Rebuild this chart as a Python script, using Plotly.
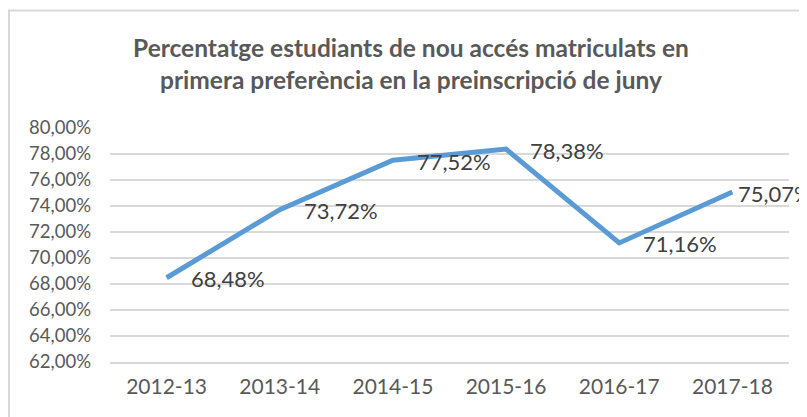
import plotly.graph_objects as go

categories = ["2012-13", "2013-14", "2014-15", "2015-16", "2016-17", "2017-18"]
values = [68.48, 73.72, 77.52, 78.38, 71.16, 75.07]
y_ticks = [62, 64, 66, 68, 70, 72, 74, 76, 78, 80]
title_lines = ["Percentatge estudiants de nou accés matriculats en",
               "primera preferència en la preinscripció de juny"]

label_xshift = [22, 22, 22, 22, 22, 4]

# page body has an 8px default margin, so the figure is sized to the remaining window
W, H = 799, 409
L, T = 102, 120
pw, ph = 679, 234
R, B = W - L - pw, H - T - ph

def fmt(v):
    return f"{v:.2f}".replace(".", ",") + "%"

fig = go.Figure()
fig.add_trace(go.Scatter(
    x=categories, y=values, mode="lines",
    line=dict(color="#5B9BD5", width=5),
    hoverinfo="skip", showlegend=False, cliponaxis=False,
))

for c, v, dx in zip(categories, values, label_xshift):
    fig.add_annotation(
        x=c, y=v, text=fmt(v), showarrow=False,
        xanchor="left", yanchor="middle", xshift=dx, yshift=-1,
        font=dict(family="Lato", size=22, color="#404040"),
    )

# chart-area border
fig.add_shape(
    type="rect", xref="paper", yref="paper",
    x0=(1 - L) / pw, x1=1.3, y0=-0.6, y1=(H - B - 2.5) / ph,
    line=dict(color="#D9D9D9", width=2), fillcolor="rgba(0,0,0,0)", layer="below",
)

fig.update_layout(
    width=W, height=H,
    margin=dict(l=L, r=R, t=T, b=B),
    paper_bgcolor="white", plot_bgcolor="white",
    title=dict(
        text="<b>" + "<br>".join(title_lines) + "</b>",
        x=(403 - L) / pw, xref="paper", xanchor="center",
        y=1 - 49 / H, yref="container", yanchor="top",
        font=dict(family="Lato", size=24.5, color="#595959"),
    ),
    xaxis=dict(
        type="category", range=[-0.5, 5.5],
        showgrid=False, showline=True, linecolor="#D9D9D9", linewidth=1.5,
        ticks="", tickfont=dict(family="Lato", size=21, color="#595959"),
        ticklabelstandoff=5, fixedrange=True,
    ),
    yaxis=dict(
        range=[62, 80], tickvals=y_ticks,
        ticktext=[f"{t:.2f}".replace(".", ",") + "%" for t in y_ticks],
        showgrid=True, gridcolor="#D9D9D9", gridwidth=1.5,
        zeroline=False, showline=False, ticks="",
        tickfont=dict(family="Lato", size=18.5, color="#595959"),
        ticklabelstandoff=18, fixedrange=True,
    ),
)

fig.write_html("out.html")
